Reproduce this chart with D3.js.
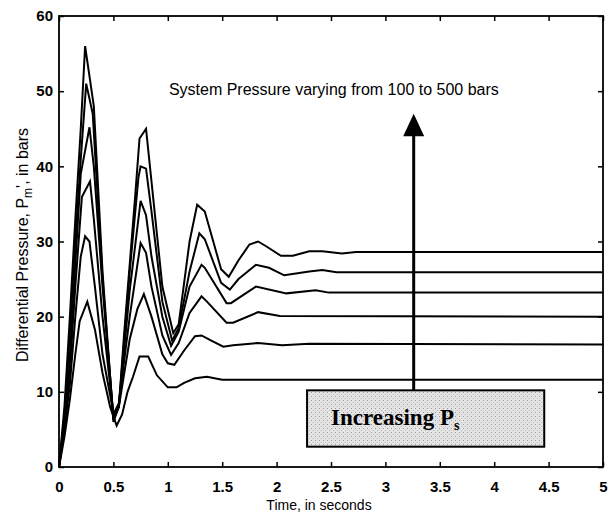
<!DOCTYPE html>
<html>
<head>
<meta charset="utf-8">
<script src="https://cdn.jsdelivr.net/npm/d3@7"></script>
<style>
  body { margin: 0; background: #fff; }
  svg { display: block; font-family: Arial, "Liberation Sans", sans-serif; }
</style>
</head>
<body>
<div id="chart"></div>
<script>
// system pressures (bars) and their time responses [t (s), Pm (bars)]
var pressures = [100, 180, 260, 340, 420, 500];

var p100 = [[0,0],[0.05,4],[0.1,9],[0.15,15],[0.19,19.4],[0.26,22],[0.33,18.3],[0.4,12.5],[0.47,8],[0.53,5.5],[0.58,7],[0.63,10],[0.68,12],[0.74,14.7],[0.82,14.7],[0.9,12.2],[1.0,10.6],[1.08,10.6],[1.15,11.2],[1.25,11.8],[1.36,12.0],[1.5,11.6],[5,11.6]];
var p180 = [[0,0],[0.05,5],[0.1,11],[0.15,20],[0.2,28],[0.24,30.7],[0.28,30],[0.33,24],[0.4,15],[0.5,7.2],[0.55,8],[0.65,17],[0.72,21],[0.78,23],[0.85,20],[0.95,15],[1.0,13.8],[1.06,13.6],[1.15,15.5],[1.25,17.4],[1.31,17.5],[1.4,16.8],[1.51,16],[1.6,16.2],[1.83,16.5],[2.05,16.2],[2.3,16.4],[5,16.3]];
var p260 = [[0,0],[0.05,5.5],[0.1,13],[0.15,24],[0.21,35.9],[0.285,38],[0.32,33],[0.4,20],[0.5,7],[0.55,8.5],[0.65,20],[0.75,29.8],[0.8,28.5],[0.85,24],[0.95,17.5],[1.03,14.9],[1.1,16.5],[1.2,20.5],[1.31,22.7],[1.36,22],[1.54,19.2],[1.6,19.2],[1.83,20.6],[2.03,20.1],[5,20.0]];
var p340 = [[0,0],[0.05,6],[0.1,15],[0.15,27],[0.2,39],[0.28,45.2],[0.32,40],[0.4,24],[0.5,6.7],[0.55,8],[0.65,23.5],[0.75,35.4],[0.8,33.5],[0.85,28],[0.95,20],[1.03,16.1],[1.1,18],[1.2,24],[1.31,26.9],[1.34,26.5],[1.54,21.8],[1.58,21.8],[1.81,24],[2.09,23.1],[2.36,23.5],[2.48,23.2],[5,23.2]];
var p420 = [[0,0],[0.05,7],[0.1,18],[0.15,30],[0.2,41],[0.25,51],[0.31,47],[0.4,25],[0.5,6.3],[0.55,8],[0.65,26],[0.73,38.5],[0.75,40],[0.8,39.7],[0.85,34],[0.95,22],[1.04,16.8],[1.1,18.5],[1.2,26],[1.29,31.1],[1.34,30.3],[1.49,24.5],[1.57,23.6],[1.65,25],[1.81,26.9],[1.93,26.5],[2.07,25.5],[2.3,26],[2.42,26.2],[2.55,25.9],[5,25.9]];
var p500 = [[0,0],[0.05,8],[0.1,20],[0.15,33],[0.2,45],[0.24,56],[0.32,48],[0.4,26],[0.5,6],[0.55,8],[0.6,18],[0.7,36],[0.74,43.7],[0.8,45],[0.85,38],[0.95,24],[1.05,17.8],[1.1,19],[1.2,30],[1.27,34.9],[1.34,34],[1.49,26.3],[1.56,25.3],[1.65,27.5],[1.75,29.6],[1.83,30],[1.9,29.4],[2.04,28.1],[2.15,28.1],[2.3,28.7],[2.42,28.7],[2.6,28.4],[2.73,28.6],[5,28.6]];

var xTicks = [0, 0.5, 1, 1.5, 2, 2.5, 3, 3.5, 4, 4.5, 5];
var yTicks = [0, 10, 20, 30, 40, 50, 60];

var series = [p100, p180, p260, p340, p420, p500];

var fullWidth = 612, fullHeight = 514;
var margin = {top: 16, right: 9, bottom: 47, left: 59},
    width  = fullWidth - margin.left - margin.right,
    height = fullHeight - margin.top - margin.bottom;

var svgRoot = d3.select("#chart").append("svg")
    .attr("width", fullWidth)
    .attr("height", fullHeight);

// stipple pattern for the label box
var defs = svgRoot.append("defs");
var pat = defs.append("pattern")
    .attr("id", "stipple")
    .attr("width", 4).attr("height", 4)
    .attr("patternUnits", "userSpaceOnUse");
pat.append("rect").attr("width", 4).attr("height", 4).attr("fill", "#e4e4e4");
pat.append("rect").attr("x", 0).attr("y", 0).attr("width", 1).attr("height", 1).attr("fill", "#9a9a9a");
pat.append("rect").attr("x", 2).attr("y", 2).attr("width", 1).attr("height", 1).attr("fill", "#bbbbbb");

var svg = svgRoot.append("g")
    .attr("transform", "translate(" + margin.left + "," + margin.top + ")");

var xScale = d3.scaleLinear().domain([0, 5]).range([0, width]);
var yScale = d3.scaleLinear().domain([0, 60]).range([height, 0]);

var line = d3.line()
    .x(function(d) { return xScale(d[0]); })
    .y(function(d) { return yScale(d[1]); });

// curves
svg.selectAll(".curve")
    .data(series)
    .enter()
    .append("path")
    .attr("class", "curve")
    .attr("d", line)
    .attr("fill", "none")
    .attr("stroke", "#000")
    .attr("stroke-width", 2)
    .attr("stroke-linejoin", "miter");

// axes, ticks pointing inward
function styleAxis(g) {
    g.select(".domain").remove();
    g.selectAll(".tick line").attr("stroke", "#000").attr("stroke-width", 1.5);
    g.selectAll(".tick text")
        .attr("fill", "#000")
        .style("font-size", "15px")
        .style("font-weight", "bold");
}

svg.append("g")
    .attr("transform", "translate(0," + height + ")")
    .call(d3.axisBottom(xScale).tickValues(xTicks).tickSize(-5).tickPadding(14)
          .tickFormat(function(d) { return String(d); }))
    .call(styleAxis);

svg.append("g")
    .call(d3.axisTop(xScale).tickValues(xTicks).tickSize(-5).tickFormat(""))
    .call(styleAxis);

svg.append("g")
    .call(d3.axisLeft(yScale).tickValues(yTicks).tickSize(-5).tickPadding(6))
    .call(styleAxis);

svg.append("g")
    .attr("transform", "translate(" + width + ",0)")
    .call(d3.axisRight(yScale).tickValues(yTicks).tickSize(-5).tickFormat(""))
    .call(styleAxis);

svg.append("rect")
    .attr("width", width)
    .attr("height", height)
    .attr("fill", "none")
    .attr("stroke", "#000")
    .attr("stroke-width", 1.8);

// annotation
svg.append("text")
    .attr("x", xScale(1.01))
    .attr("y", yScale(49.5))
    .style("font-size", "16px")
    .text("System Pressure varying from 100 to 500 bars");

var arrowX = xScale(3.26);
svg.append("line")
    .attr("x1", arrowX).attr("x2", arrowX)
    .attr("y1", yScale(10.2)).attr("y2", yScale(44.2))
    .attr("stroke", "#000")
    .attr("stroke-width", 3);

svg.append("path")
    .attr("d", "M" + (arrowX - 10.5) + "," + yScale(44) +
               "L" + (arrowX + 10.5) + "," + yScale(44) +
               "L" + arrowX + "," + yScale(47) + "Z")
    .attr("fill", "#000");

var boxX0 = xScale(2.28), boxX1 = xScale(4.46),
    boxY0 = yScale(10.2), boxY1 = yScale(2.7);
svg.append("rect")
    .attr("x", boxX0).attr("y", boxY0)
    .attr("width", boxX1 - boxX0)
    .attr("height", boxY1 - boxY0)
    .attr("fill", "url(#stipple)")
    .attr("stroke", "#000")
    .attr("stroke-width", 2);

var boxText = svg.append("text")
    .attr("x", boxX0 + 24)
    .attr("y", boxY0 + 35)
    .style("font-family", "'Liberation Serif', 'DejaVu Serif', serif")
    .style("font-size", "23px")
    .style("font-weight", "bold")
    .text("Increasing P");
boxText.append("tspan")
    .attr("dy", 5)
    .style("font-size", "14px")
    .text("s");

// axis titles
svgRoot.append("text")
    .attr("x", 319)
    .attr("y", 510)
    .attr("text-anchor", "middle")
    .style("font-size", "14px")
    .text("Time, in seconds");

var yTitle = svgRoot.append("text")
    .attr("transform", "translate(28," + 245 + ") rotate(-90)")
    .attr("text-anchor", "middle")
    .style("font-size", "16px");
yTitle.append("tspan").text("Differential Pressure, P");
yTitle.append("tspan").attr("dy", 4).style("font-size", "12px").text("m");
yTitle.append("tspan").attr("dy", -4).text("', in bars");
</script>
</body>
</html>
